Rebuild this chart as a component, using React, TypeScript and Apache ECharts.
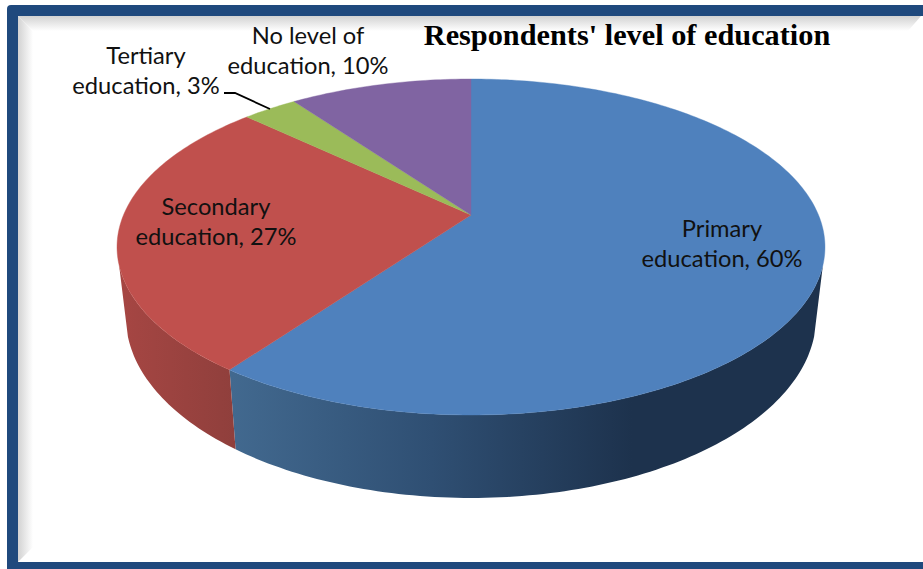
import React, { useEffect, useRef } from "react";
import * as echarts from "echarts";

const categories = ["Primary education", "Secondary education", "Tertiary education", "No level of education"];
const shares = [60, 27, 3, 10];
const faceColors = ["#4f81bd", "#c0504d", "#9bbb59", "#8064a2"];
const titleText = "Respondents' level of education";
const labelCentres = [[722, 243], [216, 221], [146, 70], [308, 50]];

const CX = 471, CY = 215, K = 0.1905, A = 161.9, B = 347.5, NARROW = 0.975;
const RIM_MID_Y = 247, LOWER_MID_Y = 317, LOWER_STRETCH = 1.077;
const RAD = Math.PI / 180;
const TOTAL = shares.reduce((a, b) => a + b, 0);
const starts: number[] = [];
shares.reduce((acc, v, i) => { starts[i] = acc; return acc + v; }, 0);
const angleAt = (p: number) => (p / TOTAL) * 360;

function rim(deg: number): [number, number] {
  const u = Math.sin(deg * RAD), v = Math.cos(deg * RAD), d = 1 + K * v;
  return [CX + (B * u) / d, CY - (A * v) / d];
}
function lower(deg: number): [number, number] {
  const [x, y] = rim(deg);
  return [CX + NARROW * (x - CX), LOWER_MID_Y + LOWER_STRETCH * (y - RIM_MID_Y)];
}
function arc(fn: (d: number) => [number, number], a: number, b: number) {
  const pts: [number, number][] = [];
  const n = Math.max(2, Math.ceil(Math.abs(b - a)));
  for (let i = 0; i <= n; i++) pts.push(fn(a + ((b - a) * i) / n));
  return pts;
}

const sideFills = [
  new echarts.graphic.LinearGradient(231, 0, 632, 0, [
    { offset: 0, color: "#42698f" },
    { offset: 0.5, color: "#2f4f73" },
    { offset: 1, color: "#1d324d" },
  ], true),
  new echarts.graphic.LinearGradient(120, 0, 237, 0, [
    { offset: 0, color: "#a64643" },
    { offset: 1, color: "#8f3f3c" },
  ], true),
  "#7a8f45",
  "#614c7c",
];

function renderSide(params: any) {
  const i = params.dataIndex;
  const a = Math.max(angleAt(starts[i]), 107);
  const b = Math.min(angleAt(starts[i] + shares[i]), 253);
  if (b <= a) return { type: "group", children: [] };
  const points = [...arc(rim, a, b), ...arc(lower, b, a)];
  return { type: "polygon", shape: { points }, style: { fill: sideFills[i] as any } };
}

function renderTop(params: any) {
  const i = params.dataIndex;
  const a = angleAt(starts[i]);
  const b = angleAt(starts[i] + shares[i]);
  const points = [[CX, CY], ...arc(rim, a, b)];
  return {
    type: "polygon",
    shape: { points },
    style: { fill: faceColors[i], stroke: faceColors[i], lineWidth: 0.4 },
  };
}

function renderLabel(params: any) {
  const i = params.dataIndex;
  return {
    type: "text",
    x: labelCentres[i][0],
    y: labelCentres[i][1],
    style: {
      text: `${categories[i].replace(" education", "\neducation")}, ${shares[i]}%`,
      fill: "#111111",
      font: "23.7px Lato, sans-serif",
      lineHeight: 30,
      align: "center",
      verticalAlign: "middle",
    },
  };
}

export default function App() {
  const ref = useRef<HTMLDivElement>(null);
  useEffect(() => {
    document.body.style.margin = "0";
    const chart = echarts.init(ref.current!, undefined, { renderer: "svg" });
    const data = categories.map((name, i) => ({ name, value: shares[i] }));
    const shadeLeft = new echarts.graphic.LinearGradient(18, 0, 33, 0, [
      { offset: 0, color: "#d2d2d2" }, { offset: 1, color: "#ffffff" },
    ], true);
    const shadeTop = new echarts.graphic.LinearGradient(0, 16, 0, 31, [
      { offset: 0, color: "#d2d2d2" }, { offset: 1, color: "#ffffff" },
    ], true);
    chart.setOption({
      animation: false,
      backgroundColor: "#ffffff",
      title: {
        text: titleText,
        left: 622,
        top: 15,
        textAlign: "center",
        textStyle: { fontFamily: "'Liberation Serif', serif", fontWeight: "bold", fontSize: 30.3, color: "#000000" },
      },
      graphic: [
        { type: "rect", z: -10, shape: { x: 7, y: 5, width: 930, height: 580, r: 4 }, style: { fill: "#1f497d" } },
        { type: "rect", z: -9, shape: { x: 18, y: 16, width: 905, height: 546 }, style: { fill: "#ffffff" } },
        { type: "polygon", z: -8, shape: { points: [[18, 16], [33, 31], [33, 547], [18, 562]] }, style: { fill: shadeLeft } },
        { type: "polygon", z: -8, shape: { points: [[18, 16], [921, 16], [908, 31], [33, 31]] }, style: { fill: shadeTop } },
        { type: "polyline", z: 20, shape: { points: [[224, 93], [235, 93], [270, 109]] }, style: { stroke: "#000000", lineWidth: 1.8, fill: "none" } },
      ],
      series: [
        { type: "custom", coordinateSystem: "none", renderItem: renderSide, data, z: 2 },
        { type: "custom", coordinateSystem: "none", renderItem: renderTop, data, z: 3 },
        { type: "custom", coordinateSystem: "none", renderItem: renderLabel, data, z: 4 },
      ],
    });
    return () => chart.dispose();
  }, []);
  return <div ref={ref} style={{ width: 923, height: 569 }} />;
}
